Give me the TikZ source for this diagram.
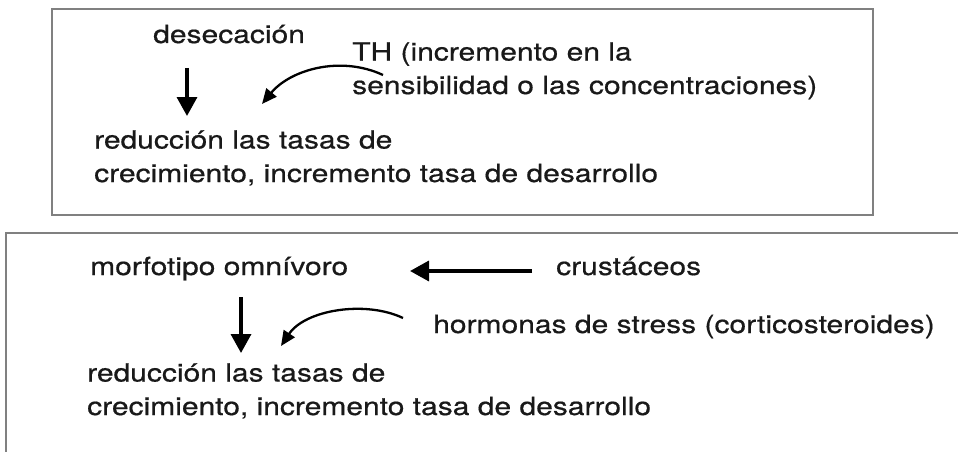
\documentclass[tikz,border=0pt]{standalone}
\usepackage{fontspec}
\setmainfont[FakeStretch=1.2, FakeBold=0.6]{TeX Gyre Heros}
\usetikzlibrary{arrows.meta}

\begin{document}
\begin{tikzpicture}[x=1pt, y=-1pt,
    label/.style={anchor=base west, inner sep=0pt, align=left, text=black!90,
      font=\fontsize{25}{33.5}\selectfont},
    frame/.style={draw=black!50, line width=1.3pt},
    bigarrow/.style={->, line width=3.5pt, >={Triangle[length=19pt,width=20pt]}},
    bentarrow/.style={->, line width=2.3pt, >={Triangle[length=15pt,width=13pt]}}]
      \useasboundingbox (0,0) rectangle (958,452);

      % upper box (labels sit on the baseline of their last line)
      \draw[frame] (52,9) rectangle (873,215);
      \node[label] (dese) at (153,43) {desecación};
      \node[label] (th) at (352,94) {TH (incremento en la\\sensibilidad o las concentraciones)};
      \node[label] (red1) at (94,182) {reducción las tasas de\\crecimiento, incremento tasa de desarrollo};
      \coordinate (d1a) at (187,68);
      \coordinate (d1b) at (187,116);
      \coordinate (th1) at (383,75);
      \coordinate (th2) at (262,104);
      \draw [bigarrow] (d1a) -- (d1b);
      \draw [bentarrow] (th1) .. controls (340,55) and (290,70) .. (th2);

      % lower box (cut at the right and bottom)
      \draw[frame] (958,233) -- (6,233) -- (6,452);
      \node[label] (morf) at (90,275) {morfotipo omnívoro};
      \node[label] (crus) at (556,275) {crustáceos};
      \node[label] (horm) at (433,333) {hormonas de stress (corticosteroides)};
      \node[label] (red2) at (87,415) {reducción las tasas de\\crecimiento, incremento tasa de desarrollo};
      \coordinate (c1) at (532,271);
      \coordinate (c2) at (410,271);
      \coordinate (d2a) at (241,297);
      \coordinate (d2b) at (241,353);
      \coordinate (h1) at (403,318);
      \coordinate (h2) at (281,346);
      \draw [bigarrow] (c1) -- (c2);
      \draw [bigarrow] (d2a) -- (d2b);
      \draw [bentarrow] (h1) .. controls (365,300) and (305,310) .. (h2);
    \end{tikzpicture}
\end{document}
